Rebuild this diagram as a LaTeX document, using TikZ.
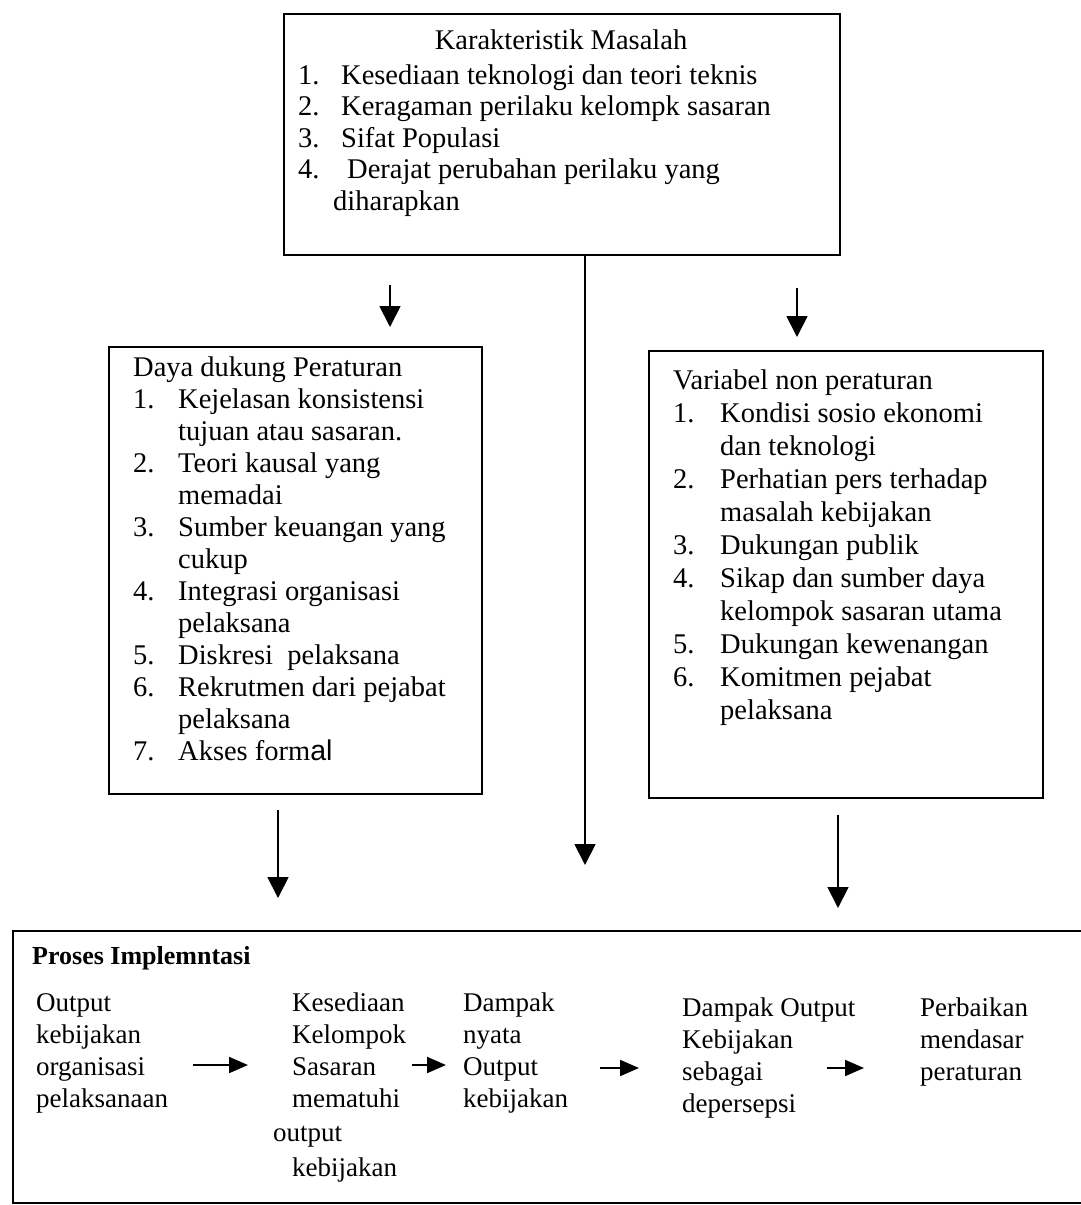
\documentclass[tikz,border=0pt]{standalone}
\usepackage{fontspec}
\setmainfont{Liberation Serif}
\newfontfamily\arialfont{Liberation Sans}
\usetikzlibrary{arrows.meta}
% daftar bernomor: kolom nomor selebar #1
\newcommand{\daftar}[2]{\begin{tabular}[t]{@{}p{#1}@{}l@{}}#2\end{tabular}}
\newcommand{\kolom}[1]{\begin{tabular}[t]{@{}l@{}}#1\end{tabular}}

\begin{document}
\begin{tikzpicture}[x=1pt,y=-1pt,>={Triangle[width=21pt,length=21pt]},
  kotak/.style={draw,line width=2.2pt,inner sep=0pt,anchor=north west},
  teks/.style={inner sep=0pt,anchor=north west,font=\fontsize{28.5}{32}\selectfont},
  teksbawah/.style={teks,font=\fontsize{27}{32}\selectfont},
  panah/.style={->,line width=1.8pt},
  panahdatar/.style={-{Triangle[width=16pt,length=19pt]},line width=2pt}]
\useasboundingbox[fill=white] (0,0) rectangle (1081,1205);

% kotak atas
\node[kotak,minimum width=556pt,minimum height=241pt] (masalah) at (283,13) {};
\node[teks,anchor=north] (judulmasalah) at (561,30) {Karakteristik Masalah};
\node[teks,font=\fontsize{28.5}{31.5}\selectfont] (isimasalah) at (298,62) {\daftar{43pt}{%
  1. & Kesediaan teknologi dan teori teknis\\
  2. & Keragaman perilaku kelompk sasaran\\
  3. & Sifat Populasi\\
  4. & \hspace{6pt}Derajat perubahan perilaku yang\\
     & \hspace{-8pt}diharapkan}};

% kotak kiri
\node[kotak,minimum width=373pt,minimum height=447pt] (peraturan) at (108,346) {};
\node[teks] (isiperaturan) at (133,354) {\daftar{45pt}{%
  \multicolumn{2}{@{}l@{}}{Daya dukung Peraturan}\\
  1. & Kejelasan konsistensi\\
     & tujuan atau sasaran.\\
  2. & Teori kausal yang\\
     & memadai\\
  3. & Sumber keuangan yang\\
     & cukup\\
  4. & Integrasi organisasi\\
     & pelaksana\\
  5. & Diskresi\ \ pelaksana\\
  6. & Rekrutmen dari pejabat\\
     & pelaksana\\
  7. & Akses form{\arialfont al}}};

% kotak kanan
\node[kotak,minimum width=394pt,minimum height=447pt] (nonperaturan) at (648,350) {};
\node[teks,font=\fontsize{28.5}{33}\selectfont] (isinonperaturan) at (673,366) {\daftar{47pt}{%
  \multicolumn{2}{@{}l@{}}{Variabel non peraturan}\\
  1. & Kondisi sosio ekonomi\\
     & dan teknologi\\
  2. & Perhatian pers terhadap\\
     & masalah kebijakan\\
  3. & Dukungan publik\\
  4. & Sikap dan sumber daya\\
     & kelompok sasaran utama\\
  5. & Dukungan kewenangan\\
  6. & Komitmen pejabat\\
     & pelaksana}};

% kotak bawah
\node[kotak,minimum width=1100pt,minimum height=272pt] (proses) at (12,930) {};
\node[teks,anchor=base west,font=\bfseries\fontsize{26}{32}\selectfont] (judulproses) at (32,964) {Proses Implemntasi};
\node[teksbawah] (output) at (36,989) {\kolom{Output\\ kebijakan\\ organisasi\\ pelaksanaan}};
\node[teksbawah] (kesediaan) at (292,989) {\kolom{Kesediaan\\ Kelompok\\ Sasaran\\ mematuhi\\[2pt] \hspace{-19pt}output\\[3pt] kebijakan}};
\node[teksbawah] (nyata) at (463,989) {\kolom{Dampak\\ nyata\\ Output\\ kebijakan}};
\node[teksbawah] (persepsi) at (682,994) {\kolom{Dampak Output\\ Kebijakan\\ sebagai\\ depersepsi}};
\node[teksbawah] (perbaikan) at (920,994) {\kolom{Perbaikan\\ mendasar\\ peraturan}};

% ujung panah
\coordinate (kiriA) at (390,285);  \coordinate (kiriB) at (390,327);
\coordinate (kananA) at (797,288); \coordinate (kananB) at (797,337);
\coordinate (tengah) at (585,865);
\coordinate (bawahkiriA) at (278,810);  \coordinate (bawahkiriB) at (278,898);
\coordinate (bawahkananA) at (838,815); \coordinate (bawahkananB) at (838,908);
\coordinate (p1a) at (193,1065); \coordinate (p1b) at (248,1065);
\coordinate (p2a) at (412,1065); \coordinate (p2b) at (446,1065);
\coordinate (p3a) at (600,1068); \coordinate (p3b) at (639,1068);
\coordinate (p4a) at (827,1068); \coordinate (p4b) at (864,1068);

\draw[panah] (kiriA) -- (kiriB);
\draw[panah] (kananA) -- (kananB);
\draw[panah] (masalah.south -| tengah) -- (tengah);
\draw[panah] (bawahkiriA) -- (bawahkiriB);
\draw[panah] (bawahkananA) -- (bawahkananB);
\draw[panahdatar] (p1a) -- (p1b);
\draw[panahdatar] (p2a) -- (p2b);
\draw[panahdatar] (p3a) -- (p3b);
\draw[panahdatar] (p4a) -- (p4b);
\end{tikzpicture}
\end{document}
